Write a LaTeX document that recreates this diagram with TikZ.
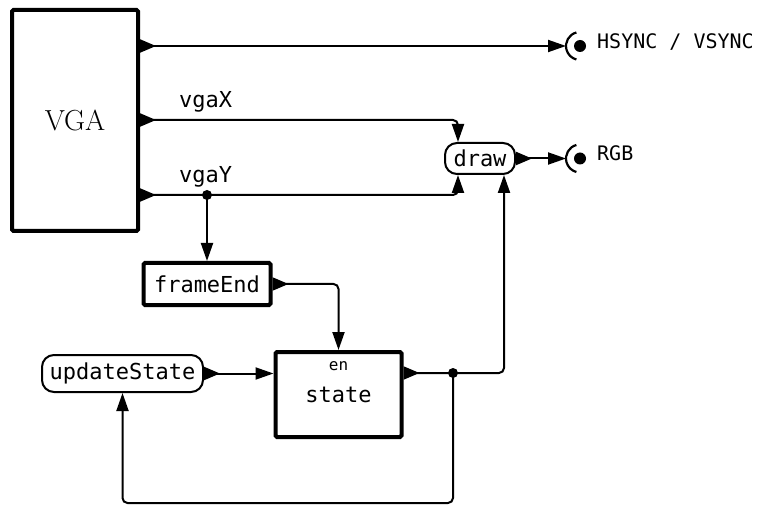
\documentclass[tikz,border=0pt]{standalone}
\usepackage{fontspec}
\newfontfamily\codefont{DejaVu Sans Mono}
\usetikzlibrary{arrows.meta,calc}

\tikzset{
  block/.style={draw, line width=4pt, rounded corners=1.5pt, inner sep=0pt,
    font=\codefont\fontsize{22}{26}\selectfont},
  func/.style={draw, line width=2pt, rounded corners=12pt, inner sep=0pt,
    font=\codefont\fontsize{22}{26}\selectfont},
  wire/.style={line width=2pt, rounded corners=5pt, -{Triangle[length=18pt,width=12pt]}},
  owire/.style={wire, {Triangle[length=16pt,width=13pt,reversed]}-{Triangle[length=18pt,width=12pt]}},
  sig/.style={font=\codefont\fontsize{22}{26}\selectfont, inner sep=0pt},
  outsig/.style={font=\codefont\fontsize{20}{24}\selectfont, inner sep=0pt, anchor=mid west},
  port/.pic={
    \draw[line width=2.2pt] (105:14pt) arc[start angle=105, end angle=255, radius=14pt];
    \fill (0,0) circle[radius=6pt];
  }
}

\begin{document}
\begin{tikzpicture}[x=1pt,y=-1pt]
\useasboundingbox (0,0) rectangle (758,505);
% blocks
\node[block, minimum width=126, minimum height=221, font=\fontsize{29}{34}\selectfont] (VGA) at (75,120.5) {VGA};
\node[func, minimum width=70, minimum height=31] (draw) at (480,158.5) {draw};
\node[block, minimum width=127, minimum height=42] (frameEnd) at (207,284) {frameEnd};
\node[block, minimum width=126, minimum height=85] (state) at (338.5,394.5) {state};
\node[font=\codefont\fontsize{16}{18}\selectfont, inner sep=0pt] (stateEn) at (338.5,366) {en};
\node[func, minimum width=161, minimum height=37] (upd) at (122.5,373.5) {updateState};
% points
\coordinate (hs) at (566,46);
\coordinate (rgb) at (566,158.5);
\coordinate (vx) at (458,120);
\coordinate (vy) at (207,195);
\coordinate (fb) at (453,373);
\coordinate (up) at (504,373);
\coordinate (bot) at (0,503);
% wires
\draw[owire] (VGA.east |- hs) -- (hs);
\draw[owire] (VGA.east |- vx) -| (draw.north -| vx);
\draw[owire] (VGA.east |- vy) -| (draw.south -| vx);
\draw[wire] (vy) -- (frameEnd.north -| vy);
\draw[owire] (frameEnd.east) -| (state.north);
\draw[owire] (upd.east) -- (state.west |- upd.east);
\draw[owire] (state.east |- up) -| (draw.south -| up);
\draw[wire] (fb) -- (fb |- bot) -| (upd.south);
\draw[owire] (draw.east) -- (rgb);
\fill (vy) circle[radius=5pt];
\fill (fb) circle[radius=5pt];
% outputs
\pic at (580,46) {port};
\pic at (580,158.5) {port};
\node[outsig] (hsLbl) at (597,46) {HSYNC / VSYNC};
\node[outsig] (rgbLbl) at (597,158.5) {RGB};
\node[sig, anchor=base west] (vgaXLbl) at (179,108) {vgaX};
\node[sig, anchor=base west] (vgaYLbl) at (179,183) {vgaY};
\end{tikzpicture}
\end{document}
